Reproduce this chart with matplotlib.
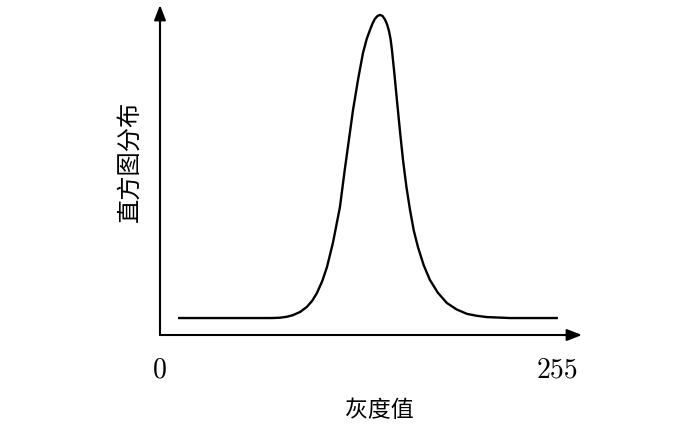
import matplotlib
matplotlib.use("Agg")
import matplotlib.pyplot as plt

# histogram curve (gray level, relative height)
gray = [11.6, 40.0, 71.9, 77.1, 81.5, 85.4, 90.0, 94.4, 97.8, 100.8, 104.2,
        107.3, 111.1, 115.6, 118.8, 121.5, 124.0, 127.3, 130.4, 132.8, 134.9,
        136.6, 138.1, 139.8, 141.3, 142.9, 144.5, 145.9, 147.1, 148.1, 149.0,
        150.6, 152.2, 154.1, 156.1, 158.3, 160.6, 163.0, 165.7, 169.4, 173.4,
        178.5, 184.3, 190.5, 197.2, 203.5, 210.0, 224.8, 255.6]
hist = [0.053, 0.053, 0.053, 0.054, 0.057, 0.062, 0.072, 0.088, 0.107, 0.131,
        0.168, 0.213, 0.288, 0.400, 0.520, 0.615, 0.703, 0.800, 0.881, 0.925,
        0.953, 0.974, 0.988, 0.997, 1.000, 0.997, 0.986, 0.970, 0.950, 0.925,
        0.891, 0.815, 0.734, 0.640, 0.547, 0.463, 0.391, 0.327, 0.275, 0.218,
        0.172, 0.132, 0.100, 0.080, 0.066, 0.060, 0.056, 0.053, 0.053]

tick_pos = [0, 255]
tick_text = ["0", "255"]
xlabel = "灰度值"
ylabel = "直方图分布"

cjk = ["Noto Sans CJK SC", "DejaVu Sans"]

fig = plt.figure(figsize=(7, 4.24), dpi=100)
ax = fig.add_axes([160 / 700, 89 / 424, 422 / 700, 330 / 424])
ax.set_xlim(0, 271.1)
ax.set_ylim(0, 1.031)
for s in ax.spines.values():
    s.set_visible(False)
ax.set_xticks([])
ax.set_yticks([])

ax.plot(gray, hist, color="black", lw=1.7, solid_capstyle="butt")

# axes with arrow heads
arrow = dict(arrowstyle="-|>,head_length=0.9,head_width=0.35", color="black", lw=1.5,
             shrinkA=0, shrinkB=0)
ax.annotate("", xy=(1, 0), xytext=(0, 0), xycoords="axes fraction", arrowprops=arrow)
ax.annotate("", xy=(0, 1), xytext=(0, 0), xycoords="axes fraction", arrowprops=arrow)

for p, t in zip(tick_pos, tick_text):
    ax.text(p, -0.11, t, ha="center", va="center", fontsize=20, family="cmr10")

ax.text(141, -0.235, xlabel, ha="center", va="center", fontsize=16.5, family=cjk)
ax.text(-0.073, 0.527, ylabel, transform=ax.transAxes, rotation=90,
        ha="center", va="center", fontsize=17.5, family=cjk)

fig.savefig("out.png", dpi=100)
